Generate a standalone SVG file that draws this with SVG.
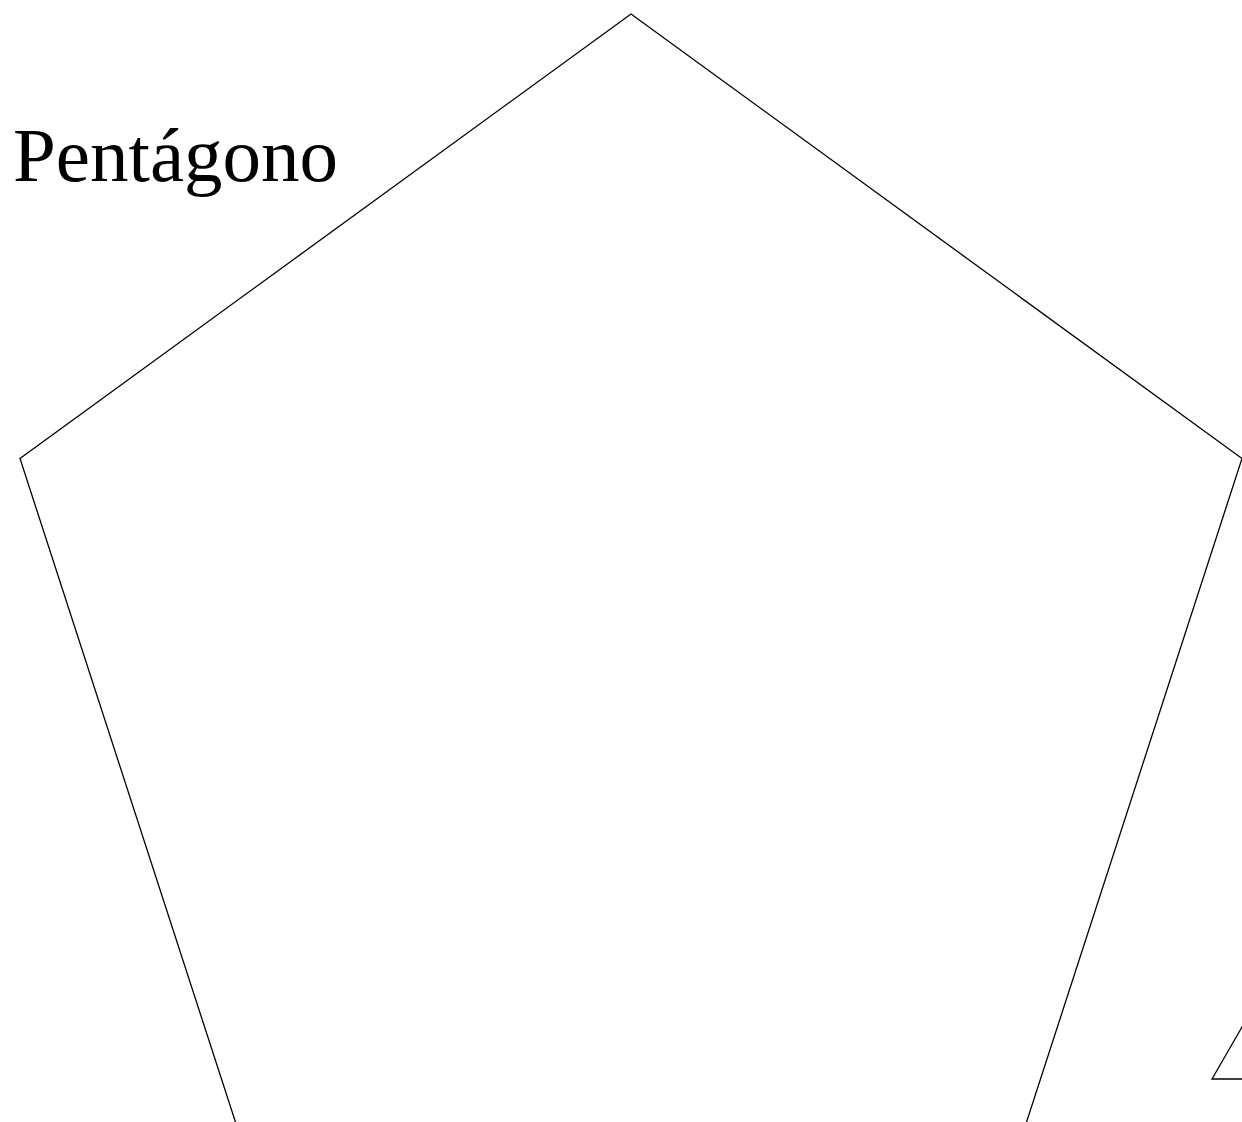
<svg xmlns="http://www.w3.org/2000/svg" width="1242" height="1122" viewBox="0 0 1242 1122">
<style>
.shape{fill:none;stroke:#000;stroke-width:1.3}
.title{font-family:"Liberation Serif","Times New Roman",serif;font-size:77px;fill:#000}
</style>
<rect width="1242" height="1122" fill="#fff"/>
<g id="pentagon">
<polygon class="shape" points="631,14 1242,458.5 1009,1176 253,1176 20,458.5"/>
</g>
<g id="triangle">
<polygon class="shape" points="1212,1079 1312,1079 1262,992.4"/>
</g>
<text class="title" x="13" y="181">Pentágono</text>
</svg>
